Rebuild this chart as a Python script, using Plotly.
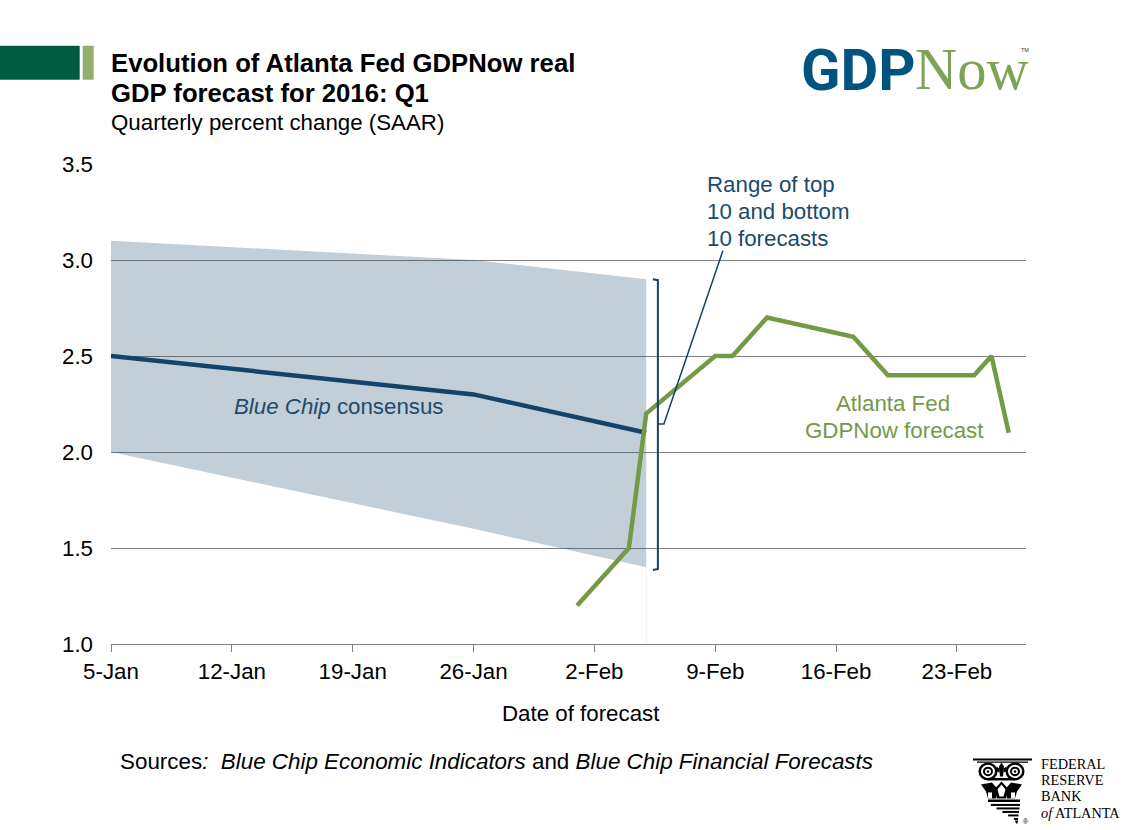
import plotly.graph_objects as go

# ---- data ----
band_dates = ["2016-01-05", "2016-01-26", "2016-02-05"]
band_high = [3.1, 3.0, 2.9]
band_low = [2.0, 1.6, 1.4]
consensus = [2.5, 2.3, 2.1]
gdpnow_dates = ["2016-02-01", "2016-02-04", "2016-02-05", "2016-02-09", "2016-02-10",
                "2016-02-12", "2016-02-17", "2016-02-19", "2016-02-24", "2016-02-25", "2016-02-26"]
gdpnow = [1.2, 1.5, 2.2, 2.5, 2.5, 2.7, 2.6, 2.4, 2.4, 2.5, 2.1]
tick_dates = ["2016-01-05", "2016-01-12", "2016-01-19", "2016-01-26", "2016-02-02",
              "2016-02-09", "2016-02-16", "2016-02-23"]
tick_labels = ["5-Jan", "12-Jan", "19-Jan", "26-Jan", "2-Feb", "9-Feb", "16-Feb", "23-Feb"]
y_ticks = [1.0, 1.5, 2.0, 2.5, 3.0, 3.5]

W, H = 1125, 830
L, R, T, B = 111.3, 1026, 164.3, 644.5
SANS = "Liberation Sans, Arial, sans-serif"
SERIF = "Liberation Serif, Times New Roman, serif"
NAVY = "#13436A"
GREEN = "#739A44"
TEXT_BLUE = "#1D4A6C"
TEXT_GREEN = "#76984A"
BODY = 22.3


def px(x):
    return (x - L) / (R - L)


def py(y):
    return (B - y) / (B - T)


def path(points, close=False):
    s = "M " + " L ".join(f"{px(x):.5f},{py(y):.5f}" for x, y in points)
    return s + (" Z" if close else "")


shapes = []


def rect(x0, y0, x1, y1, color, layer="above"):
    shapes.append(dict(type="rect", xref="paper", yref="paper", x0=px(x0), x1=px(x1),
                       y0=py(y0), y1=py(y1), fillcolor=color, line=dict(width=0), layer=layer))


def stroke(points, color, width):
    shapes.append(dict(type="path", xref="paper", yref="paper", path=path(points),
                       line=dict(color=color, width=width), layer="above"))


def poly(points, color):
    shapes.append(dict(type="path", xref="paper", yref="paper", path=path(points, True),
                       fillcolor=color, line=dict(width=0), layer="above"))


def ellipse(cx, cy, rx, ry, color):
    shapes.append(dict(type="circle", xref="paper", yref="paper", x0=px(cx - rx), x1=px(cx + rx),
                       y0=py(cy + ry), y1=py(cy - ry), fillcolor=color, line=dict(width=0), layer="above"))


# header blocks
rect(0, 46, 80, 80, "#005C3E")
rect(83, 46, 94, 80, "#94AF6B")

# bracket and leader
stroke([(653, 279.5), (658, 280.5), (658, 569.5), (653, 570.5)], NAVY, 2)
stroke([(658, 424.5), (664, 424.5), (723, 251)], NAVY, 1.5)
# faint drop line under band
stroke([(646.5, 570), (646.5, 644)], "#F2F2F2", 1)

# Federal Reserve column emblem
K = "#000000"
WH = "#FFFFFF"
rect(973, 759, 1032, 761, K)
rect(977, 762, 1028, 763.2, K)
for cx in (988, 1015):
    ellipse(cx, 772, 9.5, 9, K)
    ellipse(cx, 772, 7, 6.6, WH)
    ellipse(cx, 772, 5, 4.8, K)
    ellipse(cx, 772, 3, 2.8, WH)
    ellipse(cx, 772, 1.3, 1.3, K)
# arch linking the scrolls, with the flower above it
rect(988, 778.5, 1015, 781, K)
poly([(1001.5, 763), (1004, 767), (1003, 777), (1000, 777), (999, 767)], K)
poly([(996.5, 767), (999.5, 769), (999.5, 773), (997, 772)], K)
poly([(1006.5, 767), (1003.5, 769), (1003.5, 773), (1006, 772)], K)
# acanthus leaves
poly([(981, 785), (992, 783), (998, 790), (996, 799), (988, 799), (986, 792)], K)
poly([(1022, 785), (1011, 783), (1005, 790), (1007, 799), (1015, 799), (1017, 792)], K)
poly([(1001.5, 782), (1008, 789), (1006, 799), (997, 799), (995, 789)], K)
poly([(1001.5, 785), (1005.5, 790), (1003.5, 797), (999.5, 797), (997.5, 790)], WH)
poly([(988, 793), (992, 793), (992, 799), (988, 799)], WH)
poly([(1011, 793), (1015, 793), (1015, 799), (1011, 799)], WH)
rect(988, 800, 1020, 802.5, K)
for y0, x1 in [(804.5, 1020), (808, 1019.5), (811.5, 1019), (815, 1018.5), (818.5, 1018)]:
    x0 = 990 + (y0 - 804) * 1.65
    rect(x0, y0, x1, y0 + 2, K)
poly([(1015, 821), (1018, 821), (1017.5, 824), (1016, 824)], K)

annotations = []


def label(x, y, text, size, color="#000000", family=SANS, anchor="left"):
    annotations.append(dict(xref="paper", yref="paper", x=px(x), y=py(y), text=text, showarrow=False,
                            xanchor=anchor, yanchor="middle", borderpad=0, borderwidth=0,
                            font=dict(size=size, color=color, family=family)))


label(111, 63, "<b>Evolution of Atlanta Fed GDPNow real</b>", 25.7)
label(111, 93.5, "<b>GDP forecast for 2016: Q1</b>", 25.7)
label(111, 122.5, "Quarterly percent change (SAAR)", BODY)
label(707.5, 185, "Range of top", BODY, TEXT_BLUE)
label(707.5, 212, "10 and bottom", BODY, TEXT_BLUE)
label(707.5, 239, "10 forecasts", BODY, TEXT_BLUE)
label(234, 407, "<i>Blue Chip</i> consensus", BODY, TEXT_BLUE)
label(893, 404, "Atlanta Fed", BODY, TEXT_GREEN, anchor="center")
label(894.5, 431, "GDPNow forecast", BODY, TEXT_GREEN, anchor="center")
label(581, 714, "Date of forecast", BODY, anchor="center")
label(120, 762, "Sources<i>:  Blue Chip Economic Indicators</i> and <i>Blue Chip Financial Forecasts</i>", 22.4)
label(801, 70, "<b>GDP</b>", 58, "#00527F", "Roboto, Liberation Sans, sans-serif")
label(915, 70, "Now", 58.5, "#7FA356", SERIF)
label(1021, 50, "TM", 5.5, "#333333")
label(1041, 765, "FEDERAL", 14.3, family=SERIF)
label(1041, 781, "RESERVE", 14.3, family=SERIF)
label(1041, 797, "BANK", 14.3, family=SERIF)
label(1041, 814, "<i>of</i> ATLANTA", 14.3, family=SERIF)
label(1023, 822, "®", 7)

fig = go.Figure()
fig.add_trace(go.Scatter(x=band_dates + band_dates[::-1], y=band_high + band_low[::-1],
                         fill="toself", fillcolor="rgba(19,67,106,0.26)", mode="lines",
                         line=dict(width=0), hoverinfo="skip", showlegend=False))
fig.add_trace(go.Scatter(x=band_dates, y=consensus, mode="lines",
                         line=dict(color=NAVY, width=4.5), showlegend=False))
fig.add_trace(go.Scatter(x=gdpnow_dates, y=gdpnow, mode="lines",
                         line=dict(color=GREEN, width=4.5), showlegend=False))

fig.update_layout(
    width=W, height=H, autosize=False,
    margin=dict(l=L, r=W - R, t=T, b=H - B, pad=0, autoexpand=False),
    paper_bgcolor="white", plot_bgcolor="white",
    font=dict(family=SANS, size=20, color="#000000"),
    showlegend=False, shapes=shapes, annotations=annotations,
    xaxis=dict(type="date", range=["2016-01-05", "2016-02-27"], tickmode="array",
               tickvals=tick_dates, ticktext=tick_labels, ticks="outside", ticklen=7,
               tickwidth=1.3, tickcolor="#808080", showgrid=False, showline=True,
               linecolor="#808080", linewidth=1.3, zeroline=False,
               tickfont=dict(size=BODY, family=SANS, color="#000000")),
    yaxis=dict(range=[1.0, 3.5], tickmode="array", tickvals=y_ticks,
               ticktext=[f"{v:.1f}" for v in y_ticks], ticks="", showgrid=True,
               gridcolor="#808080", gridwidth=1.3, zeroline=False, showline=False,
               ticklabelstandoff=17,
               tickfont=dict(size=BODY, family=SANS, color="#000000")),
)

fig.write_html("out.html", config=dict(displayModeBar=False),
               post_script="document.body.style.margin='0';")
